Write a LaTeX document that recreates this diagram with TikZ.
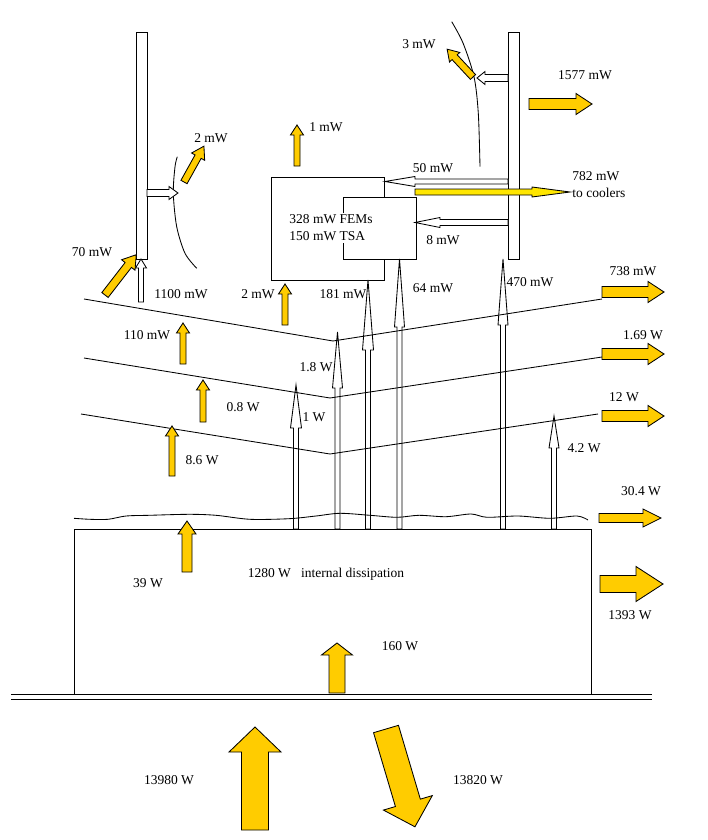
\documentclass[tikz,border=0pt]{standalone}
\usepackage{fontspec}
\setmainfont{Liberation Serif}
\usetikzlibrary{calc}
\definecolor{heatyellow}{RGB}{255,204,0}
\definecolor{cooleryellow}{RGB}{255,230,0}

% block arrow: [style]{start}{angle}{length}{shaft width}{head width}{head length}
\newcommand{\flowarrow}[7][]{%
  \draw[#1,shift={#2},rotate=#3] (0,-#5/2) -- ({#4-#7},-#5/2) -- ({#4-#7},-#6/2)
    -- (#4,0) -- ({#4-#7},#6/2) -- ({#4-#7},#5/2) -- (0,#5/2) -- cycle;}

\begin{document}
\begin{tikzpicture}[x=1pt,y=-1pt,line width=0.85pt,
  every node/.style={font=\fontsize{13.5}{17}\selectfont,inner sep=0pt},
  heat/.style={fill=heatyellow,draw=black},
  hollow/.style={fill=white,draw=black}]
\useasboundingbox (0,0) rectangle (708,840);

% FEM / TSA box
\draw (271,177) rectangle (384,280);
\draw[fill=white] (343,197) rectangle (416,259);
\node[fill=white,inner sep=2pt,align=left,anchor=west] (fems) at (287,228)
    {328 mW FEMs\\150 mW TSA};

% plates and shields
\draw[fill=white] (136,32) rectangle (147,259);
\draw[fill=white] (508,32) rectangle (519,259);
\draw plot[smooth] coordinates {(177.3,156.7) (175,166.7) (173.3,193.3)
    (176.7,226.7) (185,253.3) (196.7,268.3)};
\draw plot[smooth] coordinates {(451.7,21.7) (463,43) (474,76.7)
    (478.3,113.3) (480,166.7)};

% conducted heat
\flowarrow[hollow]{(147,193)}{0}{31}{7}{13}{9}
\flowarrow[hollow]{(508,78)}{180}{31}{7}{13}{8}
\flowarrow[hollow]{(508,181.5)}{180}{123}{5}{10}{30}
\flowarrow[hollow]{(508,222.5)}{180}{93}{6}{10}{25}
\flowarrow[hollow]{(141,302)}{90}{43}{5}{11}{9}
\flowarrow[hollow]{(296,529)}{90}{144}{5}{11}{43}
\flowarrow[hollow]{(337.5,529)}{90}{197}{5}{10}{56}
\flowarrow[hollow]{(368,529)}{90}{249}{5}{11}{70}
\flowarrow[hollow]{(399.5,529)}{90}{270}{5}{10}{68}
\flowarrow[hollow]{(503,529)}{90}{270}{5}{10}{66}
\flowarrow[hollow]{(554,529)}{90}{113}{5}{10}{32}

% MLI layers
\draw (84,299) -- (333,341) -- (602,299);
\draw (84,358) -- (330,398) -- (602,357);
\draw (81,414) -- (330,454) -- (598,414);

% payload module and ground
\draw plot[smooth] coordinates {(74,518.3) (90,519.3) (108,519.3) (126,516)
    (149,515.3) (189,514.3) (216,515.3) (250,519.3) (289,518.7) (316,516)
    (340,513.3) (370,515.3) (397,517.3) (419,515.3) (446,516.7) (471,514)
    (487,517.3) (518,516) (550,518.3) (577,516) (588,520)};
\draw (74,529) rectangle (591,694);
\draw (11,694) -- (652,694);
\draw (11,699) -- (652,699);

% radiated heat
\flowarrow[heat]{(184,182)}{60.9}{41}{7}{15}{12}
\flowarrow[heat]{(105,295)}{52.2}{51}{8}{17}{13}
\flowarrow[heat]{(473,77)}{132.9}{38}{7}{14}{11}
\flowarrow[heat]{(297,166)}{90}{41}{6}{13}{10}
\flowarrow[heat]{(285,325)}{90}{41}{6}{13}{10}
\flowarrow[heat]{(183,364)}{90}{41}{6}{13}{10}
\flowarrow[heat]{(203,422)}{90}{42}{6}{13}{10}
\flowarrow[heat]{(172,476)}{90}{50}{6}{13}{10}
\flowarrow[heat]{(187,572)}{90}{51}{10}{18}{13}
\flowarrow[heat]{(337,693)}{90}{50}{16}{31}{12}
\flowarrow[heat]{(255,830)}{90}{103}{27}{52}{25}
\flowarrow[heat]{(386,729)}{-73.5}{102}{26}{51}{25}
\flowarrow[heat]{(529,104)}{0}{63}{11}{21}{16}
\flowarrow[heat]{(602,292)}{0}{62}{11}{21}{16}
\flowarrow[heat]{(602,354)}{0}{62}{11}{21}{16}
\flowarrow[heat]{(602,416)}{0}{62}{11}{21}{16}
\flowarrow[heat]{(599,518)}{0}{62}{9}{18}{18}
\flowarrow[heat]{(600,584)}{0}{63}{17}{35}{27}
\flowarrow[fill=cooleryellow,draw=black]{(415,192)}{0}{155}{6}{10}{38}

% labels
\node (l2a) at (211,138) {2 mW};
\node (l70) at (92,252) {70 mW};
\node (l1100) at (181,294) {1100 mW};
\node (l3) at (419,44) {3 mW};
\node (l1) at (326,127) {1 mW};
\node (l1577) at (585,75) {1577 mW};
\node (l50) at (433,168) {50 mW};
\node[align=left,anchor=west] (lcool) at (572,185) {782 mW\\to coolers};
\node (l8) at (443,240) {8 mW};
\node (l2b) at (258,294) {2 mW};
\node (l181) at (343,294) {181 mW};
\node (l64) at (433,288) {64 mW};
\node (l470) at (530,282) {470 mW};
\node (l738) at (633,271) {738 mW};
\node (l110) at (147,335) {110 mW};
\node (l18) at (316,367) {1.8 W};
\node (lone) at (314,417) {1 W};
\node (l08) at (243,407) {0.8 W};
\node (l86) at (202,460) {8.6 W};
\node (l169) at (643,335) {1.69 W};
\node (l12) at (624,397) {12 W};
\node (l42) at (584,448) {4.2 W};
\node (l304) at (641,491) {30.4 W};
\node (l1393) at (630,615) {1393 W};
\node (l39) at (148,583) {39 W};
\node (ldiss) at (326,574) {1280 W\ \ \ internal dissipation};
\node (l160) at (400,646) {160 W};
\node (lin) at (169,780) {13980 W};
\node (lout) at (478,780) {13820 W};
\end{tikzpicture}
\end{document}
